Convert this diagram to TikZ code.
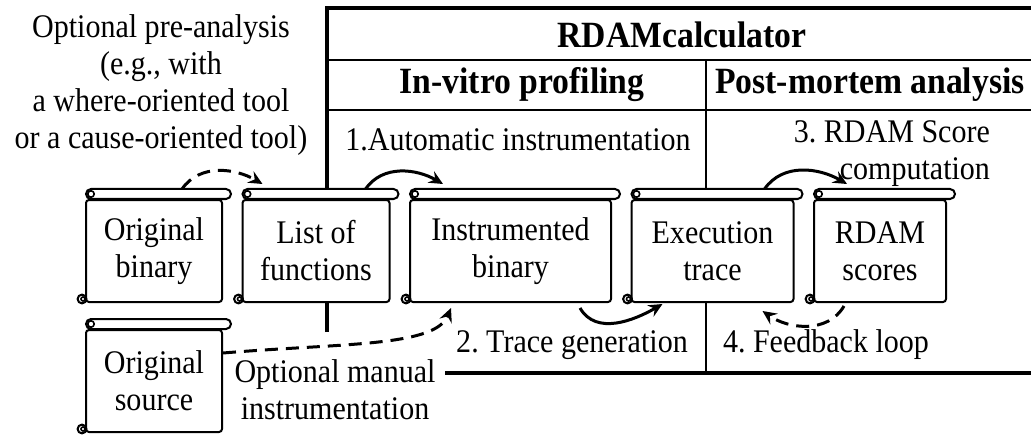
\documentclass[tikz,border=0pt]{standalone}
\usepackage{fontspec}
\setmainfont{Liberation Serif}[FakeStretch=0.91]
\frenchspacing
\usetikzlibrary{positioning,calc,arrows.meta}

\begin{document}
\begin{tikzpicture}[x=0.5pt,y=0.5pt,
    font=\fontsize{16.5}{18.5}\selectfont,
    scroll/.style={draw, fill=white, line width=1pt, rounded corners=1.5pt,
                   align=center, minimum height=51pt, inner sep=0pt},
    frame/.style={line width=2pt},
    divider/.style={line width=1pt},
    heading/.style={font=\fontsize{18.5}{20}\selectfont\bfseries},
    flow/.style={line width=1.5pt, -{Stealth[length=7pt,width=6.5pt,inset=2.5pt]}},
    optional/.style={flow, dash pattern=on 6.5pt off 4pt},
    node distance=9.25pt]
\useasboundingbox (0,0) rectangle (1031,434);

% tool frame
\draw[frame] (327,102) -- (327,426) -- (1031,426);
\draw[frame] (445,61) -- (1031,61);
\draw[divider] (327,374) -- (1031,374);
\draw[divider] (327,324) -- (1031,324);
\draw[divider] (706,374) -- (706,61);
\node[heading] (tool) at (682,399) {RDAMcalculator};
\node[heading] (invitro) at (522,349) {In-vitro profiling};
\node[heading] (postmortem) at (870,349) {Post-mortem analysis};

% documents
\node[scroll, minimum width=68pt] (orbin) at (154,183) {Original\\binary};
\node[scroll, minimum width=73.5pt, right=of orbin] (funcs) {List of\\functions};
\node[scroll, minimum width=100.5pt, right=of funcs] (instbin) {Instrumented\\binary};
\node[scroll, minimum width=81pt, right=of instbin] (trace) {Execution\\trace};
\node[scroll, minimum width=66pt, right=of trace] (scores) {RDAM\\scores};
\node[scroll, minimum width=68pt, below=13pt of orbin] (orsrc) {Original\\source};
\foreach \n in {orbin,funcs,instbin,trace,scores,orsrc}{
  \draw[line width=1pt, fill=white, rounded corners=2.5pt]
    ($(\n.north west)+(1,0)$) rectangle ($(\n.north east)+(8,10)$);
  \draw[line width=0.8pt] ($(\n.north west)+(6,5)$) circle (1.6pt);
  \draw[line width=1pt, fill=white] ($(\n.south west)+(-3,4)$) circle (2.2pt);
  \draw[line width=0.8pt] ($(\n.south west)+(-2,4)$) circle (1pt);
}

% labels
\node[align=center] (pre) at (161,349)
  {Optional pre-analysis\\(e.g., with\\a where-oriented tool\\or a cause-oriented tool)};
\node (step1) at (518,294) {1.Automatic instrumentation};
\node (step2) at (572,89) {2. Trace generation};
\node[align=right, anchor=north east] (step3) at (997,320) {3. RDAM Score\\computation};
\node (step4) at (826,89) {4. Feedback loop};
\node[align=center] (manual) at (335,44) {Optional manual\\instrumentation};

% steps
\draw[optional] ($(orbin.north)+(28,10)$) to[out=55,in=150] ($(funcs.north west)+(21,15)$);
\draw[flow] ($(funcs.north east)+(-25,10)$) to[out=55,in=150] ($(instbin.north west)+(34,15)$);
\draw[flow] ($(instbin.south east)+(-32,-5)$) to[out=-60,in=210] ($(trace.south west)+(32,-1)$);
\draw[flow] ($(trace.north east)+(-30,10)$) to[out=55,in=150] ($(scores.north west)+(34,15)$);
\draw[optional] ($(scores.south west)+(31,-3)$) to[out=-120,in=-35] ($(trace.south east)+(-32,-8)$);
\draw[optional] ($(orsrc.north east)+(0,-24)$) .. controls +(120,10) and +(-16,-39) .. ($(instbin.south west)+(42,-5)$);
\end{tikzpicture}
\end{document}
